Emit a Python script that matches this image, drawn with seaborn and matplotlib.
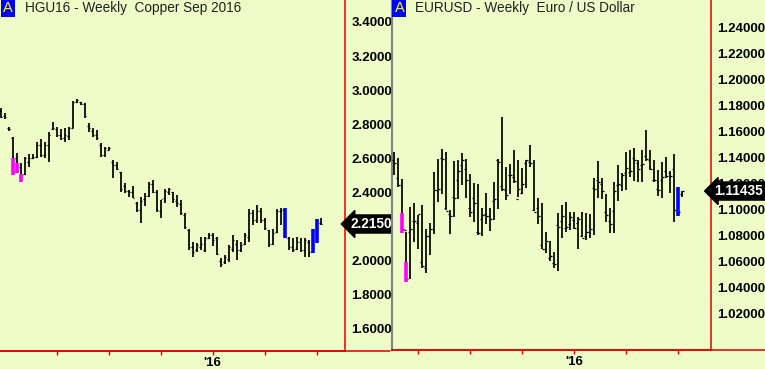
import matplotlib
matplotlib.use("Agg")
import numpy as np
import pandas as pd
import matplotlib.pyplot as plt
import matplotlib.transforms as mtransforms
import seaborn as sns

# ---- data: weekly OHLC bars ----
# Copper Sep 2016 (HGU16), one bar per week, last bar = early July 2016
cu_open = [2.88, 2.85, 2.78, 2.72, 2.60, 2.55, 2.51, 2.58, 2.60, 2.61,
           2.68, 2.62, 2.68, 2.77, 2.77, 2.74, 2.72, 2.73, 2.78, 2.93,
           2.93, 2.92, 2.79, 2.76, 2.74, 2.68, 2.62, 2.65, 2.58, 2.56,
           2.52, 2.44, 2.41, 2.40, 2.34, 2.30, 2.36, 2.38, 2.45, 2.40,
           2.29, 2.37, 2.40, 2.40, 2.35, 2.33, 2.27, 2.18, 2.08, 2.06,
           2.08, 2.06, 2.13, 2.15, 2.13, 2.00, 1.99, 2.01, 2.07, 2.10,
           2.06, 2.10, 2.14, 2.28, 2.24, 2.29, 2.24, 2.18, 2.10, 2.17,
           2.29, 2.30, 2.13, 2.08, 2.07, 2.11, 2.06, 2.11, 2.05, 2.17,
           2.22]
cu_high = [2.896, 2.866, 2.784, 2.725, 2.632, 2.573, 2.608, 2.626, 2.626, 2.696,
           2.714, 2.696, 2.755, 2.813, 2.784, 2.772, 2.778, 2.784, 2.937, 2.948,
           2.931, 2.925, 2.807, 2.778, 2.767, 2.690, 2.667, 2.667, 2.590, 2.579,
           2.520, 2.456, 2.415, 2.438, 2.344, 2.374, 2.397, 2.462, 2.473, 2.415,
           2.356, 2.421, 2.426, 2.403, 2.385, 2.356, 2.280, 2.186, 2.110, 2.104,
           2.139, 2.139, 2.163, 2.163, 2.139, 2.016, 2.033, 2.092, 2.151, 2.121,
           2.110, 2.163, 2.303, 2.297, 2.327, 2.309, 2.250, 2.180, 2.186, 2.303,
           2.309, 2.309, 2.139, 2.133, 2.139, 2.133, 2.133, 2.121, 2.186, 2.245,
           2.250]
cu_low = [2.837, 2.831, 2.760, 2.503, 2.515, 2.462, 2.503, 2.550, 2.597, 2.602,
          2.608, 2.602, 2.579, 2.767, 2.725, 2.708, 2.696, 2.708, 2.778, 2.925,
          2.913, 2.837, 2.755, 2.725, 2.708, 2.608, 2.608, 2.649, 2.485, 2.532,
          2.403, 2.397, 2.374, 2.368, 2.286, 2.221, 2.321, 2.374, 2.397, 2.286,
          2.250, 2.338, 2.385, 2.338, 2.315, 2.268, 2.186, 2.063, 2.022, 2.051,
          2.063, 2.051, 2.127, 2.086, 2.033, 1.963, 1.981, 1.992, 2.051, 2.004,
          2.051, 2.092, 2.110, 2.209, 2.221, 2.221, 2.180, 2.080, 2.092, 2.163,
          2.209, 2.133, 2.063, 2.051, 2.063, 2.051, 2.022, 2.022, 2.045, 2.104,
          2.209]
cu_close = [2.84, 2.84, 2.77, 2.52, 2.56, 2.50, 2.60, 2.60, 2.61, 2.68,
            2.62, 2.68, 2.74, 2.78, 2.74, 2.72, 2.74, 2.78, 2.93, 2.94,
            2.92, 2.85, 2.78, 2.74, 2.72, 2.62, 2.66, 2.66, 2.56, 2.54,
            2.42, 2.41, 2.40, 2.37, 2.30, 2.35, 2.38, 2.45, 2.40, 2.30,
            2.36, 2.41, 2.42, 2.36, 2.34, 2.28, 2.20, 2.08, 2.05, 2.09,
            2.10, 2.13, 2.15, 2.12, 2.04, 1.98, 2.02, 2.08, 2.12, 2.06,
            2.09, 2.15, 2.28, 2.24, 2.29, 2.24, 2.19, 2.10, 2.16, 2.29,
            2.30, 2.14, 2.08, 2.06, 2.11, 2.06, 2.12, 2.05, 2.18, 2.23,
            2.215]
# painted (signal) bars: index, bottom, top, colour
cu_paint_idx = [3, 4, 5, 71, 78, 79]
cu_paint_lo = [2.503, 2.515, 2.462, 2.133, 2.045, 2.104]
cu_paint_hi = [2.602, 2.573, 2.509, 2.309, 2.186, 2.245]
cu_paint_col = ["#ff00ff", "#ff00ff", "#ff00ff", "#0000ff", "#0000ff", "#0000ff"]
cu_yticks = [1.6, 1.8, 2.0, 2.2, 2.4, 2.6, 2.8, 3.0, 3.2, 3.4]
cu_ytick_labels = ["1.6000", "1.8000", "2.0000", "", "2.4000", "2.6000",
                   "2.8000", "3.0000", "3.2000", "3.4000"]
cu_xticks = [14, 27, 40, 53, 66, 79]
cu_last = 2.2150

# Euro / US Dollar, same weeks, starts 8 weeks later
eu_open = [1.138, 1.124, 1.119, 1.084, 1.083, 1.091, 1.090, 1.060, 1.055, 1.080,
           1.085, 1.115, 1.140, 1.101, 1.097, 1.110, 1.123, 1.134, 1.131, 1.101,
           1.109, 1.083, 1.093, 1.097, 1.095, 1.107, 1.138, 1.118, 1.115, 1.127,
           1.125, 1.108, 1.113, 1.136, 1.137, 1.100, 1.101, 1.073, 1.070, 1.063,
           1.059, 1.088, 1.091, 1.086, 1.089, 1.092, 1.090, 1.080, 1.080, 1.083,
           1.117, 1.123, 1.120, 1.098, 1.091, 1.099, 1.119, 1.119, 1.128, 1.129,
           1.140, 1.136, 1.134, 1.141, 1.138, 1.123, 1.116, 1.123, 1.130, 1.128,
           1.131, 1.116, 1.112]
eu_high = [1.1446, 1.1400, 1.1236, 1.0831, 1.1023, 1.1052, 1.0959, 1.1036, 1.0852, 1.0898,
           1.1292, 1.1390, 1.1467, 1.1446, 1.0998, 1.1375, 1.1382, 1.1436, 1.1390, 1.1275,
           1.1205, 1.1198, 1.1013, 1.1128, 1.1013, 1.1215, 1.1390, 1.1715, 1.1331, 1.1352,
           1.1459, 1.1382, 1.1321, 1.1382, 1.1498, 1.1382, 1.1090, 1.1052, 1.0831, 1.0759,
           1.0677, 1.0975, 1.1036, 1.1059, 1.0982, 1.0985, 1.0946, 1.0982, 1.0975, 1.0967,
           1.1244, 1.1375, 1.1244, 1.1121, 1.1013, 1.1215, 1.1344, 1.1282, 1.1446, 1.1459,
           1.1475, 1.1382, 1.1459, 1.1613, 1.1459, 1.1382, 1.1305, 1.1369, 1.1408, 1.1298,
           1.1428, 1.1175, 1.1144]
eu_low = [1.1267, 1.1177, 1.0823, 1.0446, 1.0465, 1.0754, 1.0698, 1.0554, 1.0513, 1.0652,
          1.0811, 1.1059, 1.1121, 1.0998, 1.0813, 1.0946, 1.1082, 1.1190, 1.1090, 1.0946,
          1.0908, 1.0805, 1.0800, 1.0890, 1.0836, 1.0921, 1.1005, 1.1144, 1.1075, 1.1121,
          1.1205, 1.1100, 1.1121, 1.1169, 1.1331, 1.0990, 1.0890, 1.0698, 1.0667, 1.0605,
          1.0554, 1.0531, 1.0785, 1.0831, 1.0844, 1.0852, 1.0698, 1.0792, 1.0767, 1.0782,
          1.0805, 1.1090, 1.1082, 1.0905, 1.0821, 1.0821, 1.1067, 1.1144, 1.1152, 1.1254,
          1.1221, 1.1213, 1.1215, 1.1375, 1.1305, 1.1215, 1.1108, 1.1092, 1.1244, 1.1128,
          1.0905, 1.0954, 1.1098]
eu_close = [1.136, 1.119, 1.085, 1.047, 1.085, 1.091, 1.097, 1.057, 1.080, 1.085,
            1.115, 1.116, 1.139, 1.099, 1.095, 1.109, 1.130, 1.138, 1.123, 1.098,
            1.105, 1.082, 1.096, 1.095, 1.093, 1.108, 1.137, 1.116, 1.111, 1.127,
            1.122, 1.116, 1.120, 1.138, 1.136, 1.098, 1.095, 1.070, 1.076, 1.064,
            1.058, 1.087, 1.095, 1.087, 1.094, 1.086, 1.093, 1.078, 1.083, 1.085,
            1.116, 1.121, 1.114, 1.096, 1.089, 1.114, 1.120, 1.127, 1.132, 1.130,
            1.138, 1.131, 1.135, 1.139, 1.131, 1.123, 1.115, 1.125, 1.126, 1.126,
            1.100, 1.098, 1.11435]
eu_paint_idx = [2, 3, 71]
eu_paint_lo = [1.0823, 1.0446, 1.0954]
eu_paint_hi = [1.0975, 1.0600, 1.1175]
eu_paint_col = ["#ff00ff", "#ff00ff", "#0000ff"]
eu_yticks = [1.00, 1.02, 1.04, 1.06, 1.08, 1.10, 1.12, 1.14, 1.16, 1.18, 1.20, 1.22, 1.24]
eu_ytick_labels = ["", "1.02000", "1.04000", "1.06000", "1.08000", "1.10000", "1.12000",
                   "1.14000", "1.16000", "1.18000", "1.20000", "1.22000", "1.24000"]
eu_xticks = [6, 19, 32, 45, 58, 71]
eu_last = 1.11435

xtick_labels = ["", "", "", "'16", "", ""]

# ---- style ----
sns.set_theme(style="ticks")
plt.rcParams["font.family"] = ["Liberation Sans", "DejaVu Sans"]
BG = "#eefcc8"
RED = "#e00000"


def ohlc_frame(o, h, l, c):
    df = pd.DataFrame({"open": o, "high": h, "low": l, "close": c})
    df["week"] = np.arange(len(df))
    return df


def draw_panel(ax, df, paint, yticks, ylabels, xticks, last, last_txt, title,
               xlim, ylim, label_x):
    ax.set_facecolor(BG)
    ax.vlines(df["week"], df["low"], df["high"], color="black", lw=1.25, zorder=3)
    ax.hlines(df["open"], df["week"] - 0.45, df["week"], color="black", lw=0.9, zorder=3)
    ax.hlines(df["close"], df["week"], df["week"] + 0.45, color="black", lw=0.9, zorder=3)
    for i, lo, hi, col in zip(*paint):
        ax.vlines(i, lo, hi, color=col, lw=2.6, zorder=4)

    ax.set_xlim(*xlim)
    ax.set_ylim(*ylim)
    ax.yaxis.tick_right()
    ax.set_yticks(yticks)
    ax.set_yticklabels(ylabels)
    ax.set_xticks(xticks)
    ax.set_xticklabels(xtick_labels)
    ax.tick_params(axis="both", colors=RED, labelcolor="black", length=3,
                   width=1, labelsize=9.5, pad=1.5)
    for t in ax.get_yticklabels() + ax.get_xticklabels():
        t.set_fontweight("bold")
    sns.despine(ax=ax, left=True, top=True, right=False)
    ax.spines["right"].set_color(RED)
    ax.spines["bottom"].set_color(RED)
    ax.spines["right"].set_linewidth(1.1)
    ax.spines["bottom"].set_linewidth(1.1)

    # last price tag
    tr = mtransforms.blended_transform_factory(ax.transAxes, ax.transData)
    ax.text(label_x, last, last_txt, transform=tr, ha="left", va="center",
            color="white", fontsize=9.8, fontweight="bold", zorder=6,
            clip_on=False,
            bbox=dict(boxstyle="larrow,pad=0.15", fc="black", ec="black"))

    # title with the blue "A" tag
    ax.text(0.008, 0.977, "A", transform=ax.transAxes, ha="left", va="center",
            color="#ffff00", fontsize=10.5,
            bbox=dict(boxstyle="square,pad=0.15", fc="#0000ff", ec="none"))
    ax.text(0.072, 0.977, title, transform=ax.transAxes, ha="left", va="center",
            color="#202020", fontsize=9.8)


fig = plt.figure(figsize=(7.65, 3.69), dpi=100, facecolor=BG)
ax1 = fig.add_axes([0.0, 18 / 369, 345 / 765, 351 / 369])
ax2 = fig.add_axes([392 / 765, 19.3 / 369, 319 / 765, 349.7 / 369])

cu = ohlc_frame(cu_open, cu_high, cu_low, cu_close)
eu = ohlc_frame(eu_open, eu_high, eu_low, eu_close)

draw_panel(ax1, cu, (cu_paint_idx, cu_paint_lo, cu_paint_hi, cu_paint_col),
           cu_yticks, cu_ytick_labels, cu_xticks, cu_last, "2.2150",
           "HGU16 - Weekly  Copper Sep 2016", (-0.175, 86.1), (1.470, 3.529), 1.017)
draw_panel(ax2, eu, (eu_paint_idx, eu_paint_lo, eu_paint_hi, eu_paint_col),
           eu_yticks, eu_ytick_labels, eu_xticks, eu_last, "1.11435",
           "EURUSD - Weekly  Euro / US Dollar", (-0.575, 79.2), (0.9923, 1.2613), 1.01)
ax2.spines["left"].set_visible(True)
ax2.spines["left"].set_color("#808080")
ax2.spines["left"].set_linewidth(1.5)

# bottom red rules run under the price scales too
fig.add_artist(plt.Line2D([0, 390 / 765], [18 / 369, 18 / 369], color=RED, lw=1.1))
fig.add_artist(plt.Line2D([392 / 765, 1], [19.3 / 369, 19.3 / 369], color=RED, lw=1.1))

fig.savefig("out.png", dpi=100, facecolor=BG)
